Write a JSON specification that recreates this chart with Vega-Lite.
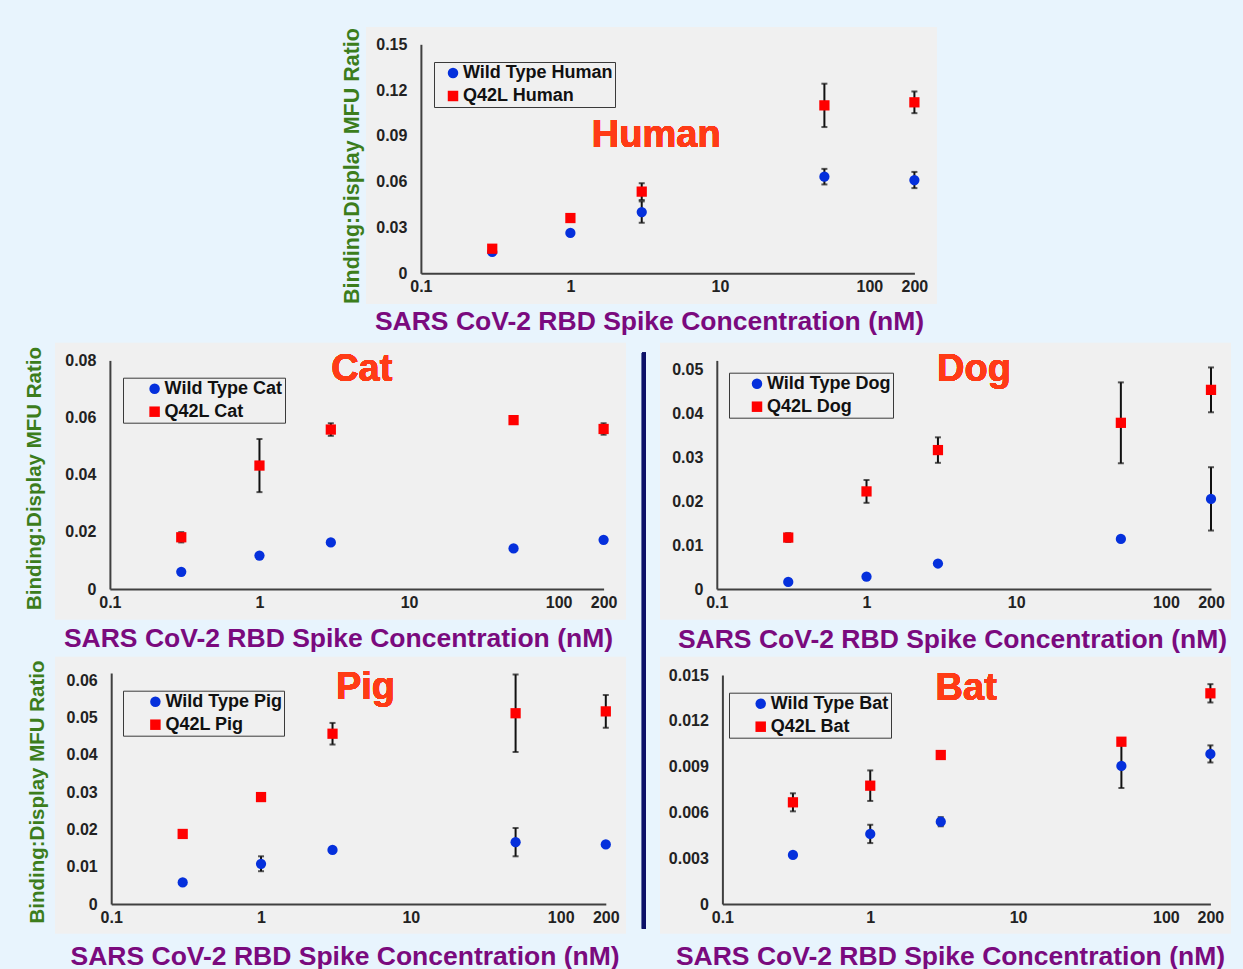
{
  "$schema": "https://vega.github.io/schema/vega-lite/v6.json",
  "background": "#e8f4fd",
  "padding": {"left": 24, "top": 26, "right": 12, "bottom": 0},
  "config": {
    "font": "Liberation Sans",
    "view": {"fill": "#f0f0f0", "stroke": null},
    "axis": {"grid": false, "ticks": false, "domainColor": "#404040", "domainWidth": 2, "labelFont": "Liberation Sans", "labelFontSize": 16, "labelFontWeight": "bold", "labelColor": "#222222", "labelFlush": false, "labelOverlap": false, "titleFont": "Liberation Sans", "titleFontWeight": "bold"},
    "axisX": {"labelPadding": 5, "titleColor": "#7a0a7e", "titleFontSize": 26.5, "titleAlign": "center", "titleBaseline": "alphabetic"},
    "axisY": {"labelPadding": 14, "titleColor": "#3c7d1c", "titleFontSize": 20.5, "titleAlign": "center", "titleBaseline": "alphabetic", "titleAngle": -90},
    "legend": {"orient": "none", "strokeColor": "#3a3a3a", "padding": 2, "labelFont": "Liberation Sans", "labelFontSize": 18, "labelFontWeight": "bold", "labelColor": "#111111", "symbolSize": 110, "labelOffset": 1, "rowPadding": 5, "symbolStrokeWidth": 0}
  },
  "bounds": "full",
  "spacing": 7.7,
  "resolve": {"scale": {"x": "independent", "y": "independent", "color": "independent", "shape": "independent"}, "axis": {"x": "independent", "y": "independent"}, "legend": {"color": "independent", "shape": "independent"}},
  "vconcat": [
    {
      "bounds": "flush",
      "align": "each",
      "spacing": 0,
      "resolve": {"scale": {"x": "independent", "y": "independent", "color": "independent", "shape": "independent"}, "axis": {"x": "independent", "y": "independent"}, "legend": {"color": "independent", "shape": "independent"}},
      "hconcat": [
        {
          "width": 310.8, "height": 277,
          "view": {"fill": "transparent", "stroke": "transparent"},
          "data": {"values": []},
          "mark": "point"
        },
        {
          "width": 571, "height": 277,
          "data": {"values": [
            {"conc": 0.3, "ratio": 0.0140, "err": 0, "series": "Wild Type Human"},
            {"conc": 1, "ratio": 0.0264, "err": 0, "series": "Wild Type Human"},
            {"conc": 3, "ratio": 0.0401, "err": 0.007, "series": "Wild Type Human"},
            {"conc": 50, "ratio": 0.0633, "err": 0.0051, "series": "Wild Type Human"},
            {"conc": 200, "ratio": 0.0611, "err": 0.0053, "series": "Wild Type Human"},
            {"conc": 0.3, "ratio": 0.0161, "err": 0, "series": "Q42L Human"},
            {"conc": 1, "ratio": 0.0362, "err": 0, "series": "Q42L Human"},
            {"conc": 3, "ratio": 0.0535, "err": 0.0055, "series": "Q42L Human"},
            {"conc": 50, "ratio": 0.110, "err": 0.0142, "series": "Q42L Human"},
            {"conc": 200, "ratio": 0.112, "err": 0.0071, "series": "Q42L Human"}
          ]},
          "encoding": {
            "x": {"field": "conc", "type": "quantitative", "scale": {"type": "log", "domain": [0.1, 200], "range": [54.9, 548.4], "nice": false}, "axis": {"values": [0.1, 1, 10, 100, 200], "format": "~g", "offset": -30.7, "title": "SARS CoV-2 RBD Spike Concentration (nM)", "titleX": 283, "titleY": 56}},
            "y": {"field": "ratio", "type": "quantitative", "scale": {"domain": [0, 0.15], "range": [246.3, 17.3], "nice": false}, "axis": {"values": [0, 0.03, 0.06, 0.09, 0.12, 0.15], "format": "~g", "offset": -54.9, "title": "Binding:Display MFU Ratio", "titleX": -62, "titleY": 138.5, "titleFontSize": 21.5}}
          },
          "layer": [
            {"mark": {"type": "errorbar", "ticks": {"size": 6, "thickness": 2, "color": "#111111"}, "thickness": 2, "color": "#111111"}, "encoding": {"yError": {"field": "err"}}},
            {"mark": {"type": "point", "filled": true, "size": 105, "opacity": 1}, "encoding": {
              "color": {"field": "series", "type": "nominal", "scale": {"domain": ["Wild Type Human", "Q42L Human"], "range": ["#0530dc", "#ff0000"]}, "legend": {"title": null, "orient": "none", "legendX": 68, "legendY": 35, "symbolOffset": 8}},
              "shape": {"field": "series", "type": "nominal", "scale": {"domain": ["Wild Type Human", "Q42L Human"], "range": ["circle", "square"]}, "legend": {"title": null, "orient": "none", "legendX": 68, "legendY": 35, "symbolOffset": 8}}}},
            {"mark": {"type": "text", "fontSize": 38, "fontWeight": "bold", "color": "#ff3b16", "align": "center", "baseline": "middle"}, "encoding": {"x": {"datum": 3.75}, "y": {"datum": 0.09}, "text": {"value": "Human"}}}
          ]
        }
      ]
    },
    {
      "bounds": "flush",
      "columns": 2,
      "spacing": {"row": 37, "column": 34},
      "resolve": {"scale": {"x": "independent", "y": "independent", "color": "independent", "shape": "independent"}, "axis": {"x": "independent", "y": "independent"}, "legend": {"color": "independent", "shape": "independent"}},
      "concat": [
        {
          "width": 571, "height": 277,
          "data": {"values": [
            {"conc": 0.3, "ratio": 0.0060, "err": 0, "series": "Wild Type Cat"},
            {"conc": 1, "ratio": 0.0117, "err": 0, "series": "Wild Type Cat"},
            {"conc": 3, "ratio": 0.0163, "err": 0, "series": "Wild Type Cat"},
            {"conc": 50, "ratio": 0.0142, "err": 0, "series": "Wild Type Cat"},
            {"conc": 200, "ratio": 0.0172, "err": 0, "series": "Wild Type Cat"},
            {"conc": 0.3, "ratio": 0.0181, "err": 0.0018, "series": "Q42L Cat"},
            {"conc": 1, "ratio": 0.0432, "err": 0.0093, "series": "Q42L Cat"},
            {"conc": 3, "ratio": 0.0558, "err": 0.0022, "series": "Q42L Cat"},
            {"conc": 50, "ratio": 0.0591, "err": 0, "series": "Q42L Cat"},
            {"conc": 200, "ratio": 0.0560, "err": 0.0020, "series": "Q42L Cat"}
          ]},
          "encoding": {
            "x": {"field": "conc", "type": "quantitative", "scale": {"type": "log", "domain": [0.1, 200], "range": [54.9, 548.6], "nice": false}, "axis": {"values": [0.1, 1, 10, 100, 200], "format": "~g", "offset": -30.7, "title": "SARS CoV-2 RBD Spike Concentration (nM)", "titleX": 283, "titleY": 57.4}},
            "y": {"field": "ratio", "type": "quantitative", "scale": {"domain": [0, 0.08], "range": [246.3, 17.7], "nice": false}, "axis": {"values": [0, 0.02, 0.04, 0.06, 0.08], "format": "~g", "offset": -54.9, "title": "Binding:Display MFU Ratio", "titleX": -69.6, "titleY": 135.3}}
          },
          "layer": [
            {"mark": {"type": "errorbar", "ticks": {"size": 6, "thickness": 2, "color": "#111111"}, "thickness": 2, "color": "#111111"}, "encoding": {"yError": {"field": "err"}}},
            {"mark": {"type": "point", "filled": true, "size": 105, "opacity": 1}, "encoding": {
              "color": {"field": "series", "type": "nominal", "scale": {"domain": ["Wild Type Cat", "Q42L Cat"], "range": ["#0530dc", "#ff0000"]}, "legend": {"title": null, "orient": "none", "legendX": 68, "legendY": 35, "symbolOffset": 20.6}},
              "shape": {"field": "series", "type": "nominal", "scale": {"domain": ["Wild Type Cat", "Q42L Cat"], "range": ["circle", "square"]}, "legend": {"title": null, "orient": "none", "legendX": 68, "legendY": 35, "symbolOffset": 20.6}}}},
            {"mark": {"type": "text", "fontSize": 38, "fontWeight": "bold", "color": "#ff3b16", "align": "center", "baseline": "middle"}, "encoding": {"x": {"datum": 4.83}, "y": {"datum": 0.0767}, "text": {"value": "Cat"}}}
          ]
        },
        {
          "width": 571, "height": 277,
          "data": {"values": [
            {"conc": 0.3, "ratio": 0.0016, "err": 0, "series": "Wild Type Dog"},
            {"conc": 1, "ratio": 0.0028, "err": 0, "series": "Wild Type Dog"},
            {"conc": 3, "ratio": 0.0058, "err": 0, "series": "Wild Type Dog"},
            {"conc": 50, "ratio": 0.0114, "err": 0, "series": "Wild Type Dog"},
            {"conc": 200, "ratio": 0.0205, "err": 0.0072, "series": "Wild Type Dog"},
            {"conc": 0.3, "ratio": 0.0117, "err": 0.0010, "series": "Q42L Dog"},
            {"conc": 1, "ratio": 0.0222, "err": 0.0026, "series": "Q42L Dog"},
            {"conc": 3, "ratio": 0.0316, "err": 0.0029, "series": "Q42L Dog"},
            {"conc": 50, "ratio": 0.0378, "err": 0.0092, "series": "Q42L Dog"},
            {"conc": 200, "ratio": 0.0453, "err": 0.0051, "series": "Q42L Dog"}
          ]},
          "encoding": {
            "x": {"field": "conc", "type": "quantitative", "scale": {"type": "log", "domain": [0.1, 200], "range": [56.8, 551], "nice": false}, "axis": {"values": [0.1, 1, 10, 100, 200], "format": "~g", "offset": -30.7, "title": "SARS CoV-2 RBD Spike Concentration (nM)", "titleX": 292, "titleY": 58}},
            "y": {"field": "ratio", "type": "quantitative", "scale": {"domain": [0, 0.052], "range": [246.3, 17.7], "nice": false}, "axis": {"values": [0, 0.01, 0.02, 0.03, 0.04, 0.05], "format": "~g", "offset": -56.8, "title": null}}
          },
          "layer": [
            {"mark": {"type": "rule", "color": "#0c1068", "strokeWidth": 4}, "encoding": {"x": {"datum": 0.0326}, "y": {"datum": 0.05375}, "y2": {"datum": -0.07727}}},
            {"mark": {"type": "errorbar", "ticks": {"size": 6, "thickness": 2, "color": "#111111"}, "thickness": 2, "color": "#111111"}, "encoding": {"yError": {"field": "err"}}},
            {"mark": {"type": "point", "filled": true, "size": 105, "opacity": 1}, "encoding": {
              "color": {"field": "series", "type": "nominal", "scale": {"domain": ["Wild Type Dog", "Q42L Dog"], "range": ["#0530dc", "#ff0000"]}, "legend": {"title": null, "orient": "none", "legendX": 69, "legendY": 30, "symbolOffset": 17}},
              "shape": {"field": "series", "type": "nominal", "scale": {"domain": ["Wild Type Dog", "Q42L Dog"], "range": ["circle", "square"]}, "legend": {"title": null, "orient": "none", "legendX": 69, "legendY": 30, "symbolOffset": 17}}}},
            {"mark": {"type": "text", "fontSize": 38, "fontWeight": "bold", "color": "#ff3b16", "align": "center", "baseline": "middle"}, "encoding": {"x": {"datum": 5.22}, "y": {"datum": 0.0499}, "text": {"value": "Dog"}}}
          ]
        },
        {
          "width": 571, "height": 277,
          "data": {"values": [
            {"conc": 0.3, "ratio": 0.0058, "err": 0, "series": "Wild Type Pig"},
            {"conc": 1, "ratio": 0.0108, "err": 0.0020, "series": "Wild Type Pig"},
            {"conc": 3, "ratio": 0.0145, "err": 0, "series": "Wild Type Pig"},
            {"conc": 50, "ratio": 0.0166, "err": 0.0038, "series": "Wild Type Pig"},
            {"conc": 200, "ratio": 0.0160, "err": 0, "series": "Wild Type Pig"},
            {"conc": 0.3, "ratio": 0.0188, "err": 0, "series": "Q42L Pig"},
            {"conc": 1, "ratio": 0.0287, "err": 0.0006, "series": "Q42L Pig"},
            {"conc": 3, "ratio": 0.0457, "err": 0.0029, "series": "Q42L Pig"},
            {"conc": 50, "ratio": 0.0512, "err": 0.0104, "series": "Q42L Pig"},
            {"conc": 200, "ratio": 0.0517, "err": 0.0044, "series": "Q42L Pig"}
          ]},
          "encoding": {
            "x": {"field": "conc", "type": "quantitative", "scale": {"type": "log", "domain": [0.1, 200], "range": [56.2, 550.8], "nice": false}, "axis": {"values": [0.1, 1, 10, 100, 200], "format": "~g", "offset": -29.7, "title": "SARS CoV-2 RBD Spike Concentration (nM)", "titleX": 289.6, "titleY": 60}},
            "y": {"field": "ratio", "type": "quantitative", "scale": {"domain": [0, 0.062], "range": [247.3, 16.3], "nice": false}, "axis": {"values": [0, 0.01, 0.02, 0.03, 0.04, 0.05, 0.06], "format": "~g", "offset": -56.2, "title": "Binding:Display MFU Ratio", "titleX": -67.3, "titleY": 134.8}}
          },
          "layer": [
            {"mark": {"type": "errorbar", "ticks": {"size": 6, "thickness": 2, "color": "#111111"}, "thickness": 2, "color": "#111111"}, "encoding": {"yError": {"field": "err"}}},
            {"mark": {"type": "point", "filled": true, "size": 105, "opacity": 1}, "encoding": {
              "color": {"field": "series", "type": "nominal", "scale": {"domain": ["Wild Type Pig", "Q42L Pig"], "range": ["#0530dc", "#ff0000"]}, "legend": {"title": null, "orient": "none", "legendX": 68, "legendY": 34, "symbolOffset": 21.4}},
              "shape": {"field": "series", "type": "nominal", "scale": {"domain": ["Wild Type Pig", "Q42L Pig"], "range": ["circle", "square"]}, "legend": {"title": null, "orient": "none", "legendX": 68, "legendY": 34, "symbolOffset": 21.4}}}},
            {"mark": {"type": "text", "fontSize": 38, "fontWeight": "bold", "color": "#ff3b16", "align": "center", "baseline": "middle"}, "encoding": {"x": {"datum": 4.98}, "y": {"datum": 0.0581}, "text": {"value": "Pig"}}}
          ]
        },
        {
          "width": 571, "height": 277,
          "data": {"values": [
            {"conc": 0.3, "ratio": 0.00321, "err": 0, "series": "Wild Type Bat"},
            {"conc": 1, "ratio": 0.00459, "err": 0.0006, "series": "Wild Type Bat"},
            {"conc": 3, "ratio": 0.00539, "err": 0.0003, "series": "Wild Type Bat"},
            {"conc": 50, "ratio": 0.00904, "err": 0.00144, "series": "Wild Type Bat"},
            {"conc": 200, "ratio": 0.00983, "err": 0.00056, "series": "Wild Type Bat"},
            {"conc": 0.3, "ratio": 0.00666, "err": 0.00059, "series": "Q42L Bat"},
            {"conc": 1, "ratio": 0.00775, "err": 0.0010, "series": "Q42L Bat"},
            {"conc": 3, "ratio": 0.00976, "err": 0, "series": "Q42L Bat"},
            {"conc": 50, "ratio": 0.01063, "err": 0, "series": "Q42L Bat"},
            {"conc": 200, "ratio": 0.0138, "err": 0.0006, "series": "Q42L Bat"}
          ]},
          "encoding": {
            "x": {"field": "conc", "type": "quantitative", "scale": {"type": "log", "domain": [0.1, 200], "range": [62.4, 550.4], "nice": false}, "axis": {"values": [0.1, 1, 10, 100, 200], "format": "~g", "offset": -29.7, "title": "SARS CoV-2 RBD Spike Concentration (nM)", "titleX": 290, "titleY": 60}},
            "y": {"field": "ratio", "type": "quantitative", "scale": {"domain": [0, 0.015], "range": [247.3, 18.3], "nice": false}, "axis": {"values": [0, 0.003, 0.006, 0.009, 0.012, 0.015], "format": "~g", "offset": -62.4, "title": null}}
          },
          "layer": [
            {"mark": {"type": "errorbar", "ticks": {"size": 6, "thickness": 2, "color": "#111111"}, "thickness": 2, "color": "#111111"}, "encoding": {"yError": {"field": "err"}}},
            {"mark": {"type": "point", "filled": true, "size": 105, "opacity": 1}, "encoding": {
              "color": {"field": "series", "type": "nominal", "scale": {"domain": ["Wild Type Bat", "Q42L Bat"], "range": ["#0530dc", "#ff0000"]}, "legend": {"title": null, "orient": "none", "legendX": 69, "legendY": 36, "symbolOffset": 20.7}},
              "shape": {"field": "series", "type": "nominal", "scale": {"domain": ["Wild Type Bat", "Q42L Bat"], "range": ["circle", "square"]}, "legend": {"title": null, "orient": "none", "legendX": 69, "legendY": 36, "symbolOffset": 20.7}}}},
            {"mark": {"type": "text", "fontSize": 38, "fontWeight": "bold", "color": "#ff3b16", "align": "center", "baseline": "middle"}, "encoding": {"x": {"datum": 4.46}, "y": {"datum": 0.01408}, "text": {"value": "Bat"}}}
          ]
        }
      ]
    }
  ]
}
